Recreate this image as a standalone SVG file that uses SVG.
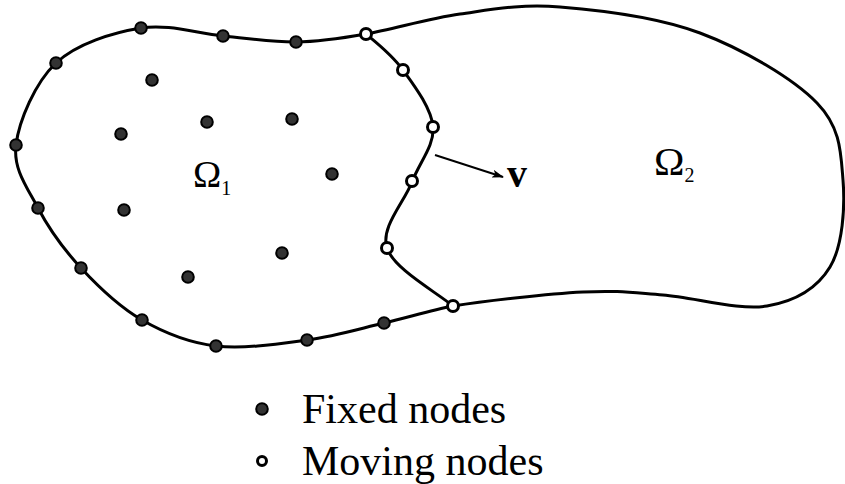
<svg xmlns="http://www.w3.org/2000/svg" width="845" height="484" viewBox="0 0 845 484">
<style>
.bd{fill:none;stroke:#000;stroke-width:3;stroke-linejoin:round;stroke-linecap:round}
.fx{fill:#333;stroke:#000;stroke-width:2}
.mv{fill:#fff;stroke:#000;stroke-width:3}
.t{font-family:"Liberation Serif","Times New Roman",serif;fill:#000}
</style>
<defs>
<marker id="ah" viewBox="0 0 12 8" refX="11" refY="4" markerWidth="12" markerHeight="8" markerUnits="userSpaceOnUse" orient="auto">
<path d="M0,0 L12,4 L0,8 L3,4 Z" fill="#000"/>
</marker>
</defs>
<g id="connectors">
<path id="omega1-boundary" class="bd" d="M366,34 C340.3,38.5 319.8,41.7 296,42 C272.2,42.3 248.8,38.3 223,36 C197.2,33.7 168.8,23.5 141,28 C113.2,32.5 76.8,43.5 56,63 C35.2,82.5 19,120.8 16,145 C13,169.2 27.2,187.5 38,208 C48.8,228.5 63.7,249.3 81,268 C98.3,286.7 119.5,307 142,320 C164.5,333 188.5,342.7 216,346 C243.5,349.3 279,343.8 307,340 C335,336.2 359.7,328.7 384,323 C408.3,317.3 430.8,310.3 453,306"/>
<path id="interface" class="bd" d="M453,306 C434.2,290.7 393.8,268.7 387,248 C380.2,227.3 404.3,202.2 412,182 C419.7,161.8 434.5,145.7 433,127 C431.5,108.3 414.2,85.5 403,70 C391.8,54.5 378.2,44 366,34"/>
<path id="omega2-boundary" class="bd" d="M366,34 C393.3,29.3 427.7,18.5 460,14 C492.3,9.5 520,3.8 560,7 C600,10.2 657.2,17 700,33 C742.8,49 793.2,78.5 817,103 C840.8,127.5 840.8,152.7 843,180 C845.2,207.3 842.7,246 830,267 C817.3,288 794.8,301.3 767,306 C739.2,310.7 693.7,297.3 663,295 C632.3,292.7 618,290.2 583,292 C548,293.8 486.2,300.8 453,306"/>
<line id="velocity" x1="435" y1="155" x2="503" y2="177" stroke="#000" stroke-width="2" marker-end="url(#ah)"/>
</g>
<g id="fixed-nodes">
<circle class="fx" cx="296" cy="42" r="5.8"/>
<circle class="fx" cx="223" cy="36" r="5.8"/>
<circle class="fx" cx="141" cy="28" r="5.8"/>
<circle class="fx" cx="56" cy="63" r="5.8"/>
<circle class="fx" cx="16" cy="145" r="5.8"/>
<circle class="fx" cx="38" cy="208" r="5.8"/>
<circle class="fx" cx="81" cy="268" r="5.8"/>
<circle class="fx" cx="142" cy="320" r="5.8"/>
<circle class="fx" cx="216" cy="346" r="5.8"/>
<circle class="fx" cx="307" cy="340" r="5.8"/>
<circle class="fx" cx="384" cy="323" r="5.8"/>
<circle class="fx" cx="152" cy="80" r="5.8"/>
<circle class="fx" cx="207" cy="122" r="5.8"/>
<circle class="fx" cx="292" cy="119" r="5.8"/>
<circle class="fx" cx="121" cy="134" r="5.8"/>
<circle class="fx" cx="332" cy="174" r="5.8"/>
<circle class="fx" cx="124" cy="210" r="5.8"/>
<circle class="fx" cx="282" cy="253" r="5.8"/>
<circle class="fx" cx="188" cy="277" r="5.8"/>
</g>
<g id="moving-nodes">
<circle class="mv" cx="366" cy="34" r="5.5"/>
<circle class="mv" cx="403" cy="70" r="5.5"/>
<circle class="mv" cx="433" cy="127" r="5.5"/>
<circle class="mv" cx="412" cy="181" r="5.5"/>
<circle class="mv" cx="387" cy="248" r="5.5"/>
<circle class="mv" cx="453" cy="306" r="5.5"/>
</g>
<g id="labels">
<text class="t" x="193" y="187" font-size="38">Ω<tspan font-size="20" dy="8">1</tspan></text>
<text class="t" x="654" y="175" font-size="41">Ω<tspan font-size="20" dy="7">2</tspan></text>
<text class="t" x="507" y="187" font-size="40" font-weight="bold">v</text>
</g>
<g id="legend">
<circle class="fx" cx="262" cy="409" r="5.8"/>
<circle class="mv" cx="262" cy="461" r="4.5" stroke-width="2.5"/>
<text class="t" x="302" y="423" font-size="42">Fixed nodes</text>
<text class="t" x="302" y="475" font-size="42">Moving nodes</text>
</g>
</svg>
